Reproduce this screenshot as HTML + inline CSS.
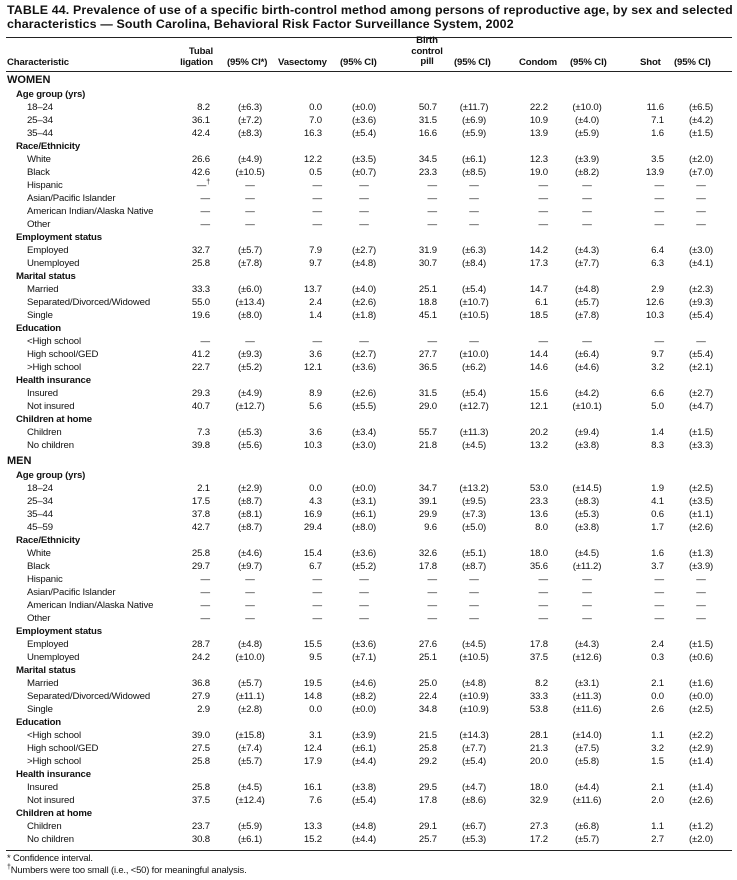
<!DOCTYPE html>
<html><head><meta charset="utf-8"><style>
body{margin:0;background:#fff;width:737px;height:880px;overflow:hidden;font-family:"Liberation Sans",Arial,sans-serif;color:#111;font-size:9.6px;letter-spacing:-0.15px}
.t{position:absolute;left:7px;top:3px;font-weight:bold;font-size:12.4px;letter-spacing:0.15px;line-height:14px;width:728px}
.hr{position:absolute;left:6px;width:726px;border-top:1px solid #222}
.h{position:absolute;font-weight:bold;line-height:10.5px}
#body{position:absolute;left:0;top:74px;width:737px}
.r{position:relative;height:13px;line-height:13px;white-space:nowrap}
.r span{position:absolute;top:0}
.l{left:27px}.s{left:16px;font-weight:bold}.g{left:7px;font-size:11px;font-weight:bold;letter-spacing:0}
.a{left:160px;width:50px;text-align:right}
.b{left:220px;width:60px;text-align:center}
.c{left:272px;width:50px;text-align:right}
.d{left:334px;width:60px;text-align:center}
.e{left:387px;width:50px;text-align:right}
.f{left:444px;width:60px;text-align:center}
.i{left:498px;width:50px;text-align:right}
.j{left:557px;width:60px;text-align:center}
.k{left:614px;width:50px;text-align:right}
.m{left:671px;width:60px;text-align:center}
.fn{position:absolute;left:7px;font-size:9.4px}
</style></head><body>
<div class="t">TABLE 44. Prevalence of use of a specific birth-control method among persons of reproductive age, by sex and selected characteristics — South Carolina, Behavioral Risk Factor Surveillance System, 2002</div>
<div class="hr" style="top:37px"></div>
<div class="h" style="left:7px;top:58px">Characteristic</div>
<div class="h" style="left:153px;width:60px;top:47px;text-align:right">Tubal<br>ligation</div>
<div class="h" style="left:227px;top:58px">(95% CI*)</div>
<div class="h" style="left:278px;top:58px">Vasectomy</div>
<div class="h" style="left:340px;top:58px">(95% CI)</div>
<div class="h" style="left:397px;width:60px;top:36px;text-align:center">Birth<br>control<br>pill</div>
<div class="h" style="left:454px;top:58px">(95% CI)</div>
<div class="h" style="left:519px;top:58px">Condom</div>
<div class="h" style="left:570px;top:58px">(95% CI)</div>
<div class="h" style="left:640px;top:58px">Shot</div>
<div class="h" style="left:674px;top:58px">(95% CI)</div>
<div class="hr" style="top:71px"></div>
<div id="body">
<div class="r" style="height:14px"><span class="g">WOMEN</span></div>
<div class="r"><span class="s">Age group (yrs)</span></div>
<div class="r"><span class="l">18–24</span><span class="a">8.2</span><span class="b">(±6.3)</span><span class="c">0.0</span><span class="d">(±0.0)</span><span class="e">50.7</span><span class="f">(±11.7)</span><span class="i">22.2</span><span class="j">(±10.0)</span><span class="k">11.6</span><span class="m">(±6.5)</span></div>
<div class="r"><span class="l">25–34</span><span class="a">36.1</span><span class="b">(±7.2)</span><span class="c">7.0</span><span class="d">(±3.6)</span><span class="e">31.5</span><span class="f">(±6.9)</span><span class="i">10.9</span><span class="j">(±4.0)</span><span class="k">7.1</span><span class="m">(±4.2)</span></div>
<div class="r"><span class="l">35–44</span><span class="a">42.4</span><span class="b">(±8.3)</span><span class="c">16.3</span><span class="d">(±5.4)</span><span class="e">16.6</span><span class="f">(±5.9)</span><span class="i">13.9</span><span class="j">(±5.9)</span><span class="k">1.6</span><span class="m">(±1.5)</span></div>
<div class="r"><span class="s">Race/Ethnicity</span></div>
<div class="r"><span class="l">White</span><span class="a">26.6</span><span class="b">(±4.9)</span><span class="c">12.2</span><span class="d">(±3.5)</span><span class="e">34.5</span><span class="f">(±6.1)</span><span class="i">12.3</span><span class="j">(±3.9)</span><span class="k">3.5</span><span class="m">(±2.0)</span></div>
<div class="r"><span class="l">Black</span><span class="a">42.6</span><span class="b">(±10.5)</span><span class="c">0.5</span><span class="d">(±0.7)</span><span class="e">23.3</span><span class="f">(±8.5)</span><span class="i">19.0</span><span class="j">(±8.2)</span><span class="k">13.9</span><span class="m">(±7.0)</span></div>
<div class="r"><span class="l">Hispanic</span><span class="a">—<sup style="font-size:7px;line-height:0">†</sup></span><span class="b">—</span><span class="c">—</span><span class="d">—</span><span class="e">—</span><span class="f">—</span><span class="i">—</span><span class="j">—</span><span class="k">—</span><span class="m">—</span></div>
<div class="r"><span class="l">Asian/Pacific Islander</span><span class="a">—</span><span class="b">—</span><span class="c">—</span><span class="d">—</span><span class="e">—</span><span class="f">—</span><span class="i">—</span><span class="j">—</span><span class="k">—</span><span class="m">—</span></div>
<div class="r"><span class="l">American Indian/Alaska Native</span><span class="a">—</span><span class="b">—</span><span class="c">—</span><span class="d">—</span><span class="e">—</span><span class="f">—</span><span class="i">—</span><span class="j">—</span><span class="k">—</span><span class="m">—</span></div>
<div class="r"><span class="l">Other</span><span class="a">—</span><span class="b">—</span><span class="c">—</span><span class="d">—</span><span class="e">—</span><span class="f">—</span><span class="i">—</span><span class="j">—</span><span class="k">—</span><span class="m">—</span></div>
<div class="r"><span class="s">Employment status</span></div>
<div class="r"><span class="l">Employed</span><span class="a">32.7</span><span class="b">(±5.7)</span><span class="c">7.9</span><span class="d">(±2.7)</span><span class="e">31.9</span><span class="f">(±6.3)</span><span class="i">14.2</span><span class="j">(±4.3)</span><span class="k">6.4</span><span class="m">(±3.0)</span></div>
<div class="r"><span class="l">Unemployed</span><span class="a">25.8</span><span class="b">(±7.8)</span><span class="c">9.7</span><span class="d">(±4.8)</span><span class="e">30.7</span><span class="f">(±8.4)</span><span class="i">17.3</span><span class="j">(±7.7)</span><span class="k">6.3</span><span class="m">(±4.1)</span></div>
<div class="r"><span class="s">Marital status</span></div>
<div class="r"><span class="l">Married</span><span class="a">33.3</span><span class="b">(±6.0)</span><span class="c">13.7</span><span class="d">(±4.0)</span><span class="e">25.1</span><span class="f">(±5.4)</span><span class="i">14.7</span><span class="j">(±4.8)</span><span class="k">2.9</span><span class="m">(±2.3)</span></div>
<div class="r"><span class="l">Separated/Divorced/Widowed</span><span class="a">55.0</span><span class="b">(±13.4)</span><span class="c">2.4</span><span class="d">(±2.6)</span><span class="e">18.8</span><span class="f">(±10.7)</span><span class="i">6.1</span><span class="j">(±5.7)</span><span class="k">12.6</span><span class="m">(±9.3)</span></div>
<div class="r"><span class="l">Single</span><span class="a">19.6</span><span class="b">(±8.0)</span><span class="c">1.4</span><span class="d">(±1.8)</span><span class="e">45.1</span><span class="f">(±10.5)</span><span class="i">18.5</span><span class="j">(±7.8)</span><span class="k">10.3</span><span class="m">(±5.4)</span></div>
<div class="r"><span class="s">Education</span></div>
<div class="r"><span class="l">&lt;High school</span><span class="a">—</span><span class="b">—</span><span class="c">—</span><span class="d">—</span><span class="e">—</span><span class="f">—</span><span class="i">—</span><span class="j">—</span><span class="k">—</span><span class="m">—</span></div>
<div class="r"><span class="l">High school/GED</span><span class="a">41.2</span><span class="b">(±9.3)</span><span class="c">3.6</span><span class="d">(±2.7)</span><span class="e">27.7</span><span class="f">(±10.0)</span><span class="i">14.4</span><span class="j">(±6.4)</span><span class="k">9.7</span><span class="m">(±5.4)</span></div>
<div class="r"><span class="l">&gt;High school</span><span class="a">22.7</span><span class="b">(±5.2)</span><span class="c">12.1</span><span class="d">(±3.6)</span><span class="e">36.5</span><span class="f">(±6.2)</span><span class="i">14.6</span><span class="j">(±4.6)</span><span class="k">3.2</span><span class="m">(±2.1)</span></div>
<div class="r"><span class="s">Health insurance</span></div>
<div class="r"><span class="l">Insured</span><span class="a">29.3</span><span class="b">(±4.9)</span><span class="c">8.9</span><span class="d">(±2.6)</span><span class="e">31.5</span><span class="f">(±5.4)</span><span class="i">15.6</span><span class="j">(±4.2)</span><span class="k">6.6</span><span class="m">(±2.7)</span></div>
<div class="r"><span class="l">Not insured</span><span class="a">40.7</span><span class="b">(±12.7)</span><span class="c">5.6</span><span class="d">(±5.5)</span><span class="e">29.0</span><span class="f">(±12.7)</span><span class="i">12.1</span><span class="j">(±10.1)</span><span class="k">5.0</span><span class="m">(±4.7)</span></div>
<div class="r"><span class="s">Children at home</span></div>
<div class="r"><span class="l">Children</span><span class="a">7.3</span><span class="b">(±5.3)</span><span class="c">3.6</span><span class="d">(±3.4)</span><span class="e">55.7</span><span class="f">(±11.3)</span><span class="i">20.2</span><span class="j">(±9.4)</span><span class="k">1.4</span><span class="m">(±1.5)</span></div>
<div class="r"><span class="l">No children</span><span class="a">39.8</span><span class="b">(±5.6)</span><span class="c">10.3</span><span class="d">(±3.0)</span><span class="e">21.8</span><span class="f">(±4.5)</span><span class="i">13.2</span><span class="j">(±3.8)</span><span class="k">8.3</span><span class="m">(±3.3)</span></div>
<div style="height:3px"></div>
<div class="r" style="height:14px"><span class="g">MEN</span></div>
<div class="r"><span class="s">Age group (yrs)</span></div>
<div class="r"><span class="l">18–24</span><span class="a">2.1</span><span class="b">(±2.9)</span><span class="c">0.0</span><span class="d">(±0.0)</span><span class="e">34.7</span><span class="f">(±13.2)</span><span class="i">53.0</span><span class="j">(±14.5)</span><span class="k">1.9</span><span class="m">(±2.5)</span></div>
<div class="r"><span class="l">25–34</span><span class="a">17.5</span><span class="b">(±8.7)</span><span class="c">4.3</span><span class="d">(±3.1)</span><span class="e">39.1</span><span class="f">(±9.5)</span><span class="i">23.3</span><span class="j">(±8.3)</span><span class="k">4.1</span><span class="m">(±3.5)</span></div>
<div class="r"><span class="l">35–44</span><span class="a">37.8</span><span class="b">(±8.1)</span><span class="c">16.9</span><span class="d">(±6.1)</span><span class="e">29.9</span><span class="f">(±7.3)</span><span class="i">13.6</span><span class="j">(±5.3)</span><span class="k">0.6</span><span class="m">(±1.1)</span></div>
<div class="r"><span class="l">45–59</span><span class="a">42.7</span><span class="b">(±8.7)</span><span class="c">29.4</span><span class="d">(±8.0)</span><span class="e">9.6</span><span class="f">(±5.0)</span><span class="i">8.0</span><span class="j">(±3.8)</span><span class="k">1.7</span><span class="m">(±2.6)</span></div>
<div class="r"><span class="s">Race/Ethnicity</span></div>
<div class="r"><span class="l">White</span><span class="a">25.8</span><span class="b">(±4.6)</span><span class="c">15.4</span><span class="d">(±3.6)</span><span class="e">32.6</span><span class="f">(±5.1)</span><span class="i">18.0</span><span class="j">(±4.5)</span><span class="k">1.6</span><span class="m">(±1.3)</span></div>
<div class="r"><span class="l">Black</span><span class="a">29.7</span><span class="b">(±9.7)</span><span class="c">6.7</span><span class="d">(±5.2)</span><span class="e">17.8</span><span class="f">(±8.7)</span><span class="i">35.6</span><span class="j">(±11.2)</span><span class="k">3.7</span><span class="m">(±3.9)</span></div>
<div class="r"><span class="l">Hispanic</span><span class="a">—</span><span class="b">—</span><span class="c">—</span><span class="d">—</span><span class="e">—</span><span class="f">—</span><span class="i">—</span><span class="j">—</span><span class="k">—</span><span class="m">—</span></div>
<div class="r"><span class="l">Asian/Pacific Islander</span><span class="a">—</span><span class="b">—</span><span class="c">—</span><span class="d">—</span><span class="e">—</span><span class="f">—</span><span class="i">—</span><span class="j">—</span><span class="k">—</span><span class="m">—</span></div>
<div class="r"><span class="l">American Indian/Alaska Native</span><span class="a">—</span><span class="b">—</span><span class="c">—</span><span class="d">—</span><span class="e">—</span><span class="f">—</span><span class="i">—</span><span class="j">—</span><span class="k">—</span><span class="m">—</span></div>
<div class="r"><span class="l">Other</span><span class="a">—</span><span class="b">—</span><span class="c">—</span><span class="d">—</span><span class="e">—</span><span class="f">—</span><span class="i">—</span><span class="j">—</span><span class="k">—</span><span class="m">—</span></div>
<div class="r"><span class="s">Employment status</span></div>
<div class="r"><span class="l">Employed</span><span class="a">28.7</span><span class="b">(±4.8)</span><span class="c">15.5</span><span class="d">(±3.6)</span><span class="e">27.6</span><span class="f">(±4.5)</span><span class="i">17.8</span><span class="j">(±4.3)</span><span class="k">2.4</span><span class="m">(±1.5)</span></div>
<div class="r"><span class="l">Unemployed</span><span class="a">24.2</span><span class="b">(±10.0)</span><span class="c">9.5</span><span class="d">(±7.1)</span><span class="e">25.1</span><span class="f">(±10.5)</span><span class="i">37.5</span><span class="j">(±12.6)</span><span class="k">0.3</span><span class="m">(±0.6)</span></div>
<div class="r"><span class="s">Marital status</span></div>
<div class="r"><span class="l">Married</span><span class="a">36.8</span><span class="b">(±5.7)</span><span class="c">19.5</span><span class="d">(±4.6)</span><span class="e">25.0</span><span class="f">(±4.8)</span><span class="i">8.2</span><span class="j">(±3.1)</span><span class="k">2.1</span><span class="m">(±1.6)</span></div>
<div class="r"><span class="l">Separated/Divorced/Widowed</span><span class="a">27.9</span><span class="b">(±11.1)</span><span class="c">14.8</span><span class="d">(±8.2)</span><span class="e">22.4</span><span class="f">(±10.9)</span><span class="i">33.3</span><span class="j">(±11.3)</span><span class="k">0.0</span><span class="m">(±0.0)</span></div>
<div class="r"><span class="l">Single</span><span class="a">2.9</span><span class="b">(±2.8)</span><span class="c">0.0</span><span class="d">(±0.0)</span><span class="e">34.8</span><span class="f">(±10.9)</span><span class="i">53.8</span><span class="j">(±11.6)</span><span class="k">2.6</span><span class="m">(±2.5)</span></div>
<div class="r"><span class="s">Education</span></div>
<div class="r"><span class="l">&lt;High school</span><span class="a">39.0</span><span class="b">(±15.8)</span><span class="c">3.1</span><span class="d">(±3.9)</span><span class="e">21.5</span><span class="f">(±14.3)</span><span class="i">28.1</span><span class="j">(±14.0)</span><span class="k">1.1</span><span class="m">(±2.2)</span></div>
<div class="r"><span class="l">High school/GED</span><span class="a">27.5</span><span class="b">(±7.4)</span><span class="c">12.4</span><span class="d">(±6.1)</span><span class="e">25.8</span><span class="f">(±7.7)</span><span class="i">21.3</span><span class="j">(±7.5)</span><span class="k">3.2</span><span class="m">(±2.9)</span></div>
<div class="r"><span class="l">&gt;High school</span><span class="a">25.8</span><span class="b">(±5.7)</span><span class="c">17.9</span><span class="d">(±4.4)</span><span class="e">29.2</span><span class="f">(±5.4)</span><span class="i">20.0</span><span class="j">(±5.8)</span><span class="k">1.5</span><span class="m">(±1.4)</span></div>
<div class="r"><span class="s">Health insurance</span></div>
<div class="r"><span class="l">Insured</span><span class="a">25.8</span><span class="b">(±4.5)</span><span class="c">16.1</span><span class="d">(±3.8)</span><span class="e">29.5</span><span class="f">(±4.7)</span><span class="i">18.0</span><span class="j">(±4.4)</span><span class="k">2.1</span><span class="m">(±1.4)</span></div>
<div class="r"><span class="l">Not insured</span><span class="a">37.5</span><span class="b">(±12.4)</span><span class="c">7.6</span><span class="d">(±5.4)</span><span class="e">17.8</span><span class="f">(±8.6)</span><span class="i">32.9</span><span class="j">(±11.6)</span><span class="k">2.0</span><span class="m">(±2.6)</span></div>
<div class="r"><span class="s">Children at home</span></div>
<div class="r"><span class="l">Children</span><span class="a">23.7</span><span class="b">(±5.9)</span><span class="c">13.3</span><span class="d">(±4.8)</span><span class="e">29.1</span><span class="f">(±6.7)</span><span class="i">27.3</span><span class="j">(±6.8)</span><span class="k">1.1</span><span class="m">(±1.2)</span></div>
<div class="r"><span class="l">No children</span><span class="a">30.8</span><span class="b">(±6.1)</span><span class="c">15.2</span><span class="d">(±4.4)</span><span class="e">25.7</span><span class="f">(±5.3)</span><span class="i">17.2</span><span class="j">(±5.7)</span><span class="k">2.7</span><span class="m">(±2.0)</span></div>
</div>
<div class="hr" style="top:850px"></div>
<div class="fn" style="top:852px">* Confidence interval.</div>
<div class="fn" style="top:864px"><sup style="font-size:7px">†</sup>Numbers were too small (i.e., &lt;50) for meaningful analysis.</div>
</body></html>
